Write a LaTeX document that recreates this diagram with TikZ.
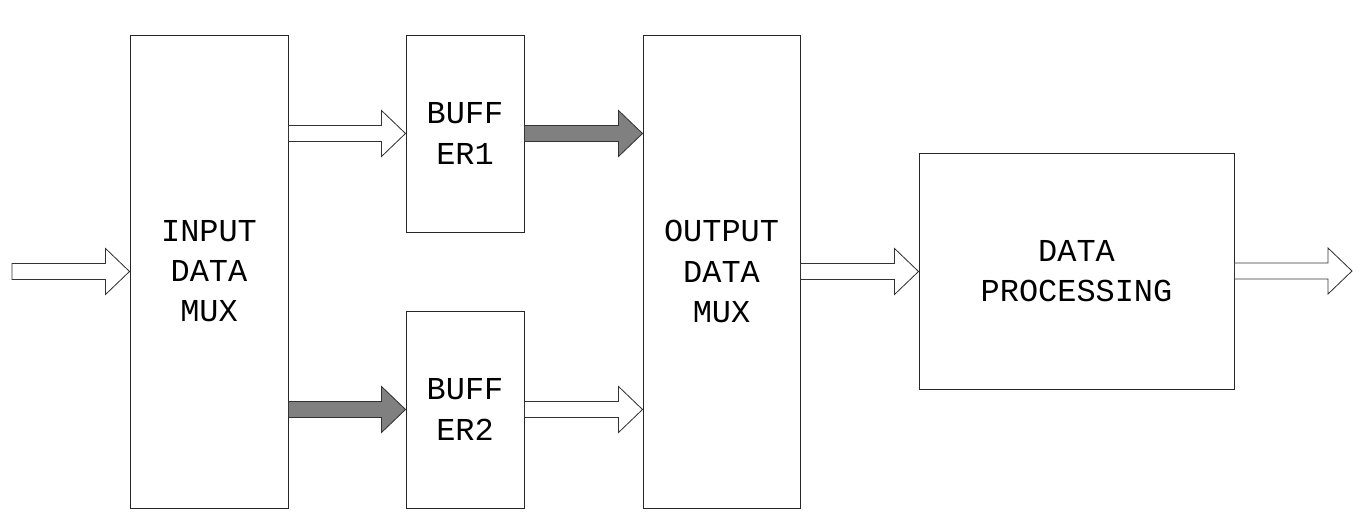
\documentclass[tikz,border=0pt]{standalone}
\usepackage{fontspec}
\newfontfamily\boxfont{Liberation Mono}
\usetikzlibrary{calc}

\newcommand{\pxu}{0.025cm}
% block arrow, drawn from one point to another at the same height
\newcommand{\blockarrow}[3]{%
  \draw [arrowline, fill=#1] let \p1=(#2), \p2=(#3) in
    (\x1,\y1+0.2cm) -- (\x2-0.6cm,\y1+0.2cm) -- (\x2-0.6cm,\y1+0.575cm) -- (\x2,\y1)
    -- (\x2-0.6cm,\y1-0.575cm) -- (\x2-0.6cm,\y1-0.2cm) -- (\x1,\y1-0.2cm) -- cycle;%
}

\tikzset{
  block/.style={draw=black!85, line width=0.7pt, align=center, inner sep=0pt,
    font=\boxfont\fontsize{22.7}{28.5}\selectfont},
  arrowline/.style={draw=black!80, line width=0.6pt},
}

\begin{document}
\begin{tikzpicture}[x=\pxu, y=-\pxu]
  \useasboundingbox (0,0) rectangle (1372,523);

  % Blocks
  \node [block, minimum width=158*\pxu, minimum height=473*\pxu] (inmux) at (209,271.5) {INPUT\\DATA\\MUX};
  \node [block, minimum width=118*\pxu, minimum height=197*\pxu] (buf1) at (465,133.5) {BUFF\\ER1};
  \node [block, minimum width=118*\pxu, minimum height=197*\pxu] (buf2) at (465,409.5) {BUFF\\ER2};
  \node [block, minimum width=157*\pxu, minimum height=473*\pxu] (outmux) at (721.5,271.5) {OUTPUT\\DATA\\MUX};
  \node [block, minimum width=315*\pxu, minimum height=236*\pxu] (dp) at (1076.5,271) {DATA\\PROCESSING};

  % Free ends
  \coordinate (src) at (12,271.5);
  \coordinate (snk) at (1352,271.5);

  % Input and output
  \blockarrow{white}{src}{inmux.west}
  \blockarrow{white}{outmux.east}{dp.west}
  \blockarrow{white}{dp.east}{snk}

  % Through the buffers
  \blockarrow{white}{inmux.east |- buf1.west}{buf1.west}
  \blockarrow{black!50}{buf1.east}{outmux.west |- buf1.east}
  \blockarrow{black!50}{inmux.east |- buf2.west}{buf2.west}
  \blockarrow{white}{buf2.east}{outmux.west |- buf2.east}
\end{tikzpicture}
\end{document}
